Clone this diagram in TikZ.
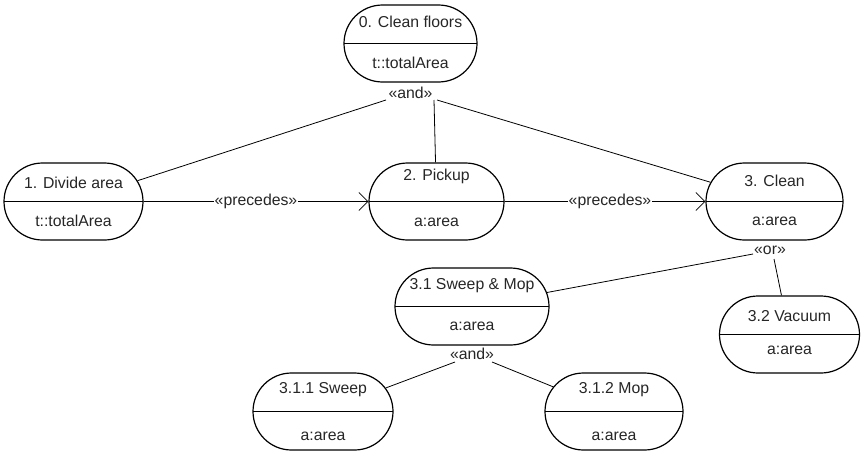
\documentclass[tikz,border=0pt]{standalone}
\usepackage{fontspec}
\setmainfont{Liberation Sans}
\usetikzlibrary{shapes.misc,arrows.meta}
\begin{document}
\begin{tikzpicture}[x=1pt,y=-1pt,
  act/.style={rounded rectangle, draw=black, line width=1.2pt, minimum height=77pt, inner sep=0pt,
    path picture={\draw[line width=1.1pt] (path picture bounding box.west) -- (path picture bounding box.east);}},
  txt/.style={font=\fontsize{15.8}{18}\selectfont, text=black!85, inner sep=0pt},
  conn/.style={draw=black, line width=0.8pt},
  prec/.style={conn, -{Straight Barb[length=9pt,width=18pt,line width=0.8pt]}},
  stlab/.style={txt, fill=white, inner sep=1pt}
]
\useasboundingbox (0,0) rectangle (862,455);
% nodes
\node[act, minimum width=133pt] (n0) at (410.5,43.5) {};
\node[act, minimum width=139pt] (n1) at (73.5,201.5) {};
\node[act, minimum width=135pt] (n2) at (436.5,201.5) {};
\node[act, minimum width=137pt] (n3) at (774.5,201.5) {};
\node[act, minimum width=154pt] (n31) at (472,306.5) {};
\node[act, minimum width=140pt] (n32) at (789.5,334.5) {};
\node[act, minimum width=140pt] (n311) at (323,411.5) {};
\node[act, minimum width=138pt] (n312) at (614,411.5) {};
% texts
\node[txt] (t0a) at (410.5,22) {0. Clean floors};
\node[txt] (t0b) at (410.5,63) {t::totalArea};
\node[txt] (t1a) at (73.5,183) {1. Divide area};
\node[txt] (t1b) at (73.5,221) {t::totalArea};
\node[txt] (t2a) at (436.5,176) {2. Pickup};
\node[txt] (t2b) at (436.5,222) {a:area};
\node[txt] (t3a) at (774.5,181) {3. Clean};
\node[txt] (t3b) at (774.5,221) {a:area};
\node[txt] (t31a) at (472,286) {3.1 Sweep \& Mop};
\node[txt] (t31b) at (472,326) {a:area};
\node[txt] (t32a) at (789.5,316) {3.2 Vacuum};
\node[txt] (t32b) at (789.5,350) {a:area};
\node[txt] (t311a) at (323,390) {3.1.1 Sweep};
\node[txt] (t311b) at (323,436) {a:area};
\node[txt] (t312a) at (614,390) {3.1.2 Mop};
\node[txt] (t312b) at (614,436) {a:area};
% decomposition labels
\node[txt] (and0) at (410.5,93) {«and»};
\node[txt] (or3) at (770,250) {«or»};
\node[txt] (and31) at (472,354) {«and»};
\coordinate (c0l) at (386,100);
\coordinate (c0m) at (434,100);
\coordinate (c0r) at (437,100);
\coordinate (c3l) at (753,254);
\coordinate (c3r) at (774,259);
\coordinate (c31l) at (455,362);
\coordinate (c31r) at (492,362);
% connectors
\draw[conn] (c0l) -- (n1);
\draw[conn] (c0m) -- (n2);
\draw[conn] (c0r) -- (n3);
\draw[conn] (c3l) -- (n31);
\draw[conn] (c3r) -- (n32);
\draw[conn] (c31l) -- (n311);
\draw[conn] (c31r) -- (n312);
\draw[prec] (n1) -- node[stlab] (p1) {«precedes»} (n2);
\draw[prec] (n2) -- node[stlab, xshift=5pt] (p2) {«precedes»} (n3);
\end{tikzpicture}
\end{document}
